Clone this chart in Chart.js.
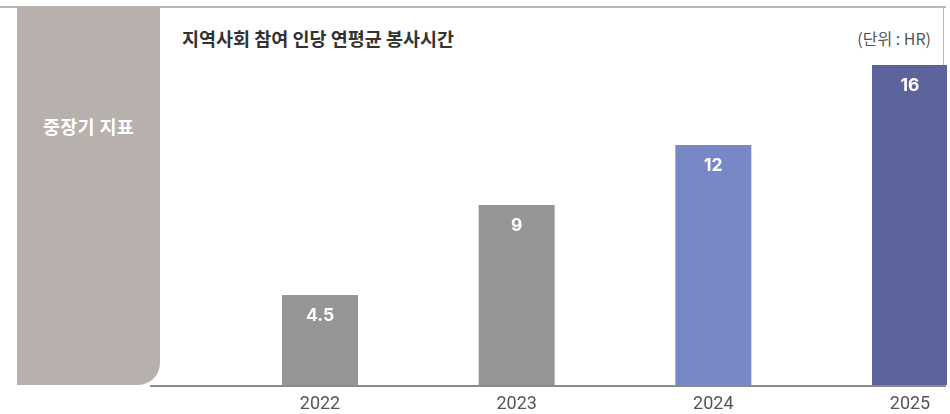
<!DOCTYPE html>
<html>
<head>
<meta charset="utf-8">
<script src="https://cdn.jsdelivr.net/npm/chart.js@4"></script>
<style>
  html, body { margin: 0; padding: 0; background: #fff; width: 950px; height: 414px; overflow: hidden; }
  #topline { position: absolute; left: 0; top: 6px; width: 946px; height: 1.5px; background: #bcb5b1; }
  #rightline { position: absolute; left: 943px; top: 7px; width: 1px; height: 378px; background: #b9b9b9; }
  #bottomline { position: absolute; left: 150px; top: 385px; width: 796px; height: 1.5px; background: #8a8a8a; }
  #panel { position: absolute; left: 17px; top: 7px; width: 143px; height: 378px; background: #b8b0ad; border-bottom-right-radius: 22px; }
  #panelText { position: absolute; left: 17px; top: 114px; width: 143px; text-align: center; color: #fff;
    font-family: "Noto Sans CJK KR", sans-serif; font-weight: 700; font-size: 18.5px; line-height: 24px; letter-spacing: 0.3px; }
  #title { position: absolute; left: 182px; top: 26px; color: #333; font-family: "Noto Sans CJK KR", sans-serif;
    font-weight: 700; font-size: 18.5px; line-height: 24px; }
  #unit { position: absolute; right: 19px; top: 27px; color: #555; font-family: "Noto Sans CJK KR", sans-serif;
    font-weight: 400; font-size: 16px; line-height: 22px; }
  #wrap { position: absolute; left: 0; top: 0; width: 947px; height: 414px; overflow: hidden; }
  #wrap canvas { position: absolute; left: 0; top: 0; }
</style>
</head>
<body>
<div id="topline"></div>
<div id="rightline"></div>
<div id="bottomline"></div>
<div id="panel"></div>
<div id="panelText">중장기 지표</div>
<div id="title">지역사회 참여 인당 연평균 봉사시간</div>
<div id="unit">(단위 : HR)</div>
<div id="wrap"><canvas id="c" width="1010" height="414" style="width:1010px;height:414px"></canvas></div>
<script>
const categories = ['2022', '2023', '2024', '2025'];
const hours = [4.5, 9, 12, 16];
const valueLabels = ['4.5', '9', '12', '16'];
const barColors = ['#959595', '#959595', '#7888c4', '#5d639b'];

const valueLabelPlugin = {
  id: 'valueLabels',
  afterDatasetsDraw(chart) {
    const ctx = chart.ctx;
    const meta = chart.getDatasetMeta(0);
    ctx.save();
    ctx.fillStyle = '#ffffff';
    ctx.font = '700 17.5px Inter, "Liberation Sans", sans-serif';
    ctx.textAlign = 'center';
    ctx.textBaseline = 'middle';
    meta.data.forEach((bar, i) => {
      ctx.fillText(valueLabels[i], bar.x, bar.y + 21);
    });
    ctx.restore();
  }
};

new Chart(document.getElementById('c'), {
  type: 'bar',
  data: {
    labels: categories,
    datasets: [{
      data: hours,
      backgroundColor: barColors,
      borderWidth: 0,
      barPercentage: 0.3864,
      categoryPercentage: 1
    }]
  },
  options: {
    responsive: false,
    animation: false,
    devicePixelRatio: 1,
    layout: { padding: { left: 221.67, right: 1.67, top: 25, bottom: 0 } },
    plugins: { legend: { display: false }, tooltip: { enabled: false } },
    scales: {
      y: { display: false, min: 0, max: 18 },
      x: {
        grid: { display: false, drawTicks: false },
        border: { display: false },
        ticks: { color: '#555', font: { family: 'Roboto', size: 18 }, padding: 9 },
        afterFit(scale) { scale.height = 29; }
      }
    }
  },
  plugins: [valueLabelPlugin]
});
</script>
</body>
</html>
